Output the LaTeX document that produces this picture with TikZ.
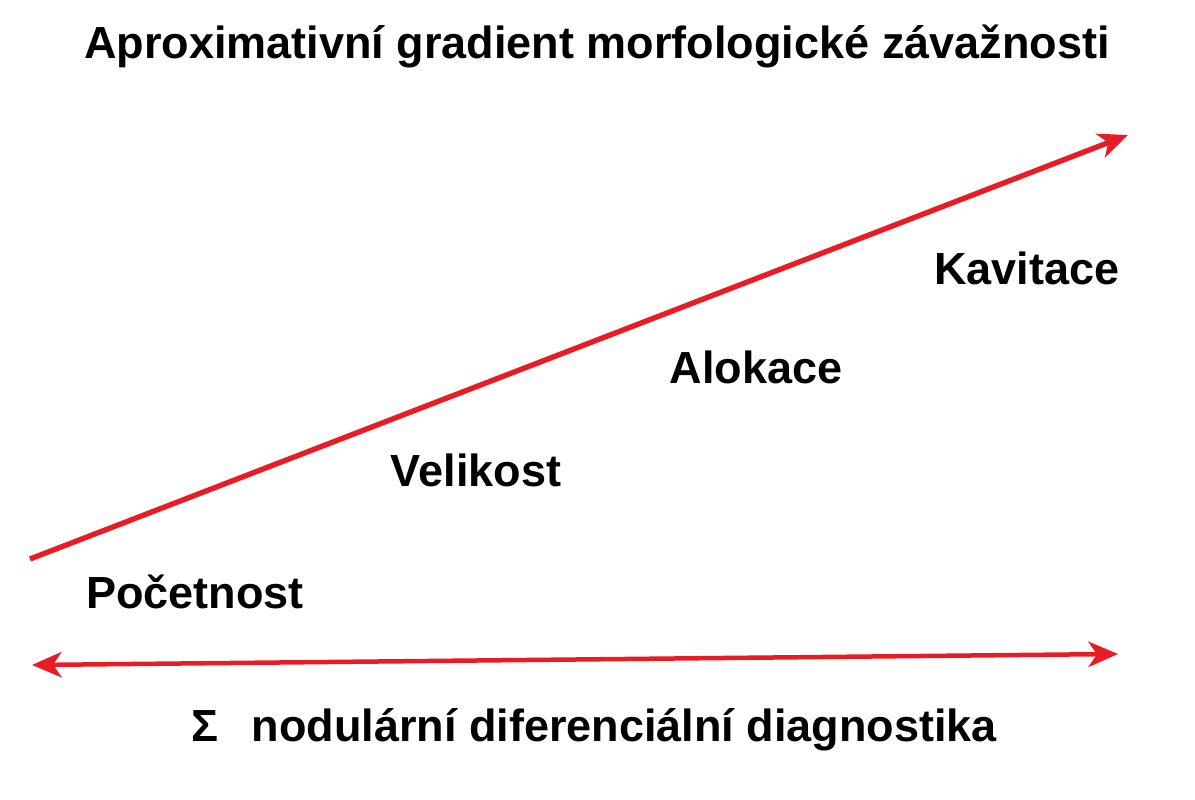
\documentclass[tikz,border=0pt]{standalone}
\usepackage{fontspec}
\setmainfont{Liberation Sans}
\usetikzlibrary{arrows.meta}

\begin{document}
\begin{tikzpicture}[x=0.025cm,y=-0.025cm,
	lbl/.style={font=\fontsize{32}{36}\selectfont\bfseries,inner sep=0pt},
	redarrow/.style={draw={rgb,255:red,232;green,28;blue,36},line width=3.8pt,-{Stealth[length=21pt,width=18pt,inset=6pt]}}]
		
		\useasboundingbox (0,0) rectangle (1195,800);
		
		\node(title) at (597,46)[lbl]{Aproximativní gradient morfologické závažnosti};
		\node(kav) at (1027,268)[lbl]{Kavitace};
		\node(alo) at (756,367)[lbl]{Alokace};
		\node(vel) at (476,470)[lbl]{Velikost};
		\node(poc) at (195,592)[lbl]{Početnost};
		\node(sum) at (594,730)[lbl]{Σ\hspace{0.75em}nodulární diferenciální diagnostika};
		
		\coordinate(a) at (30,559);
		\coordinate(b) at (1128,135);
		\coordinate(c) at (32,665);
		\coordinate(d) at (1118,654);
		
		\draw[redarrow] (a) -- (b);
		\draw[redarrow,line width=3.2pt,{Stealth[length=21pt,width=18pt,inset=6pt]}-{Stealth[length=21pt,width=18pt,inset=6pt]}] (c) -- (d);
		
	\end{tikzpicture}
\end{document}
